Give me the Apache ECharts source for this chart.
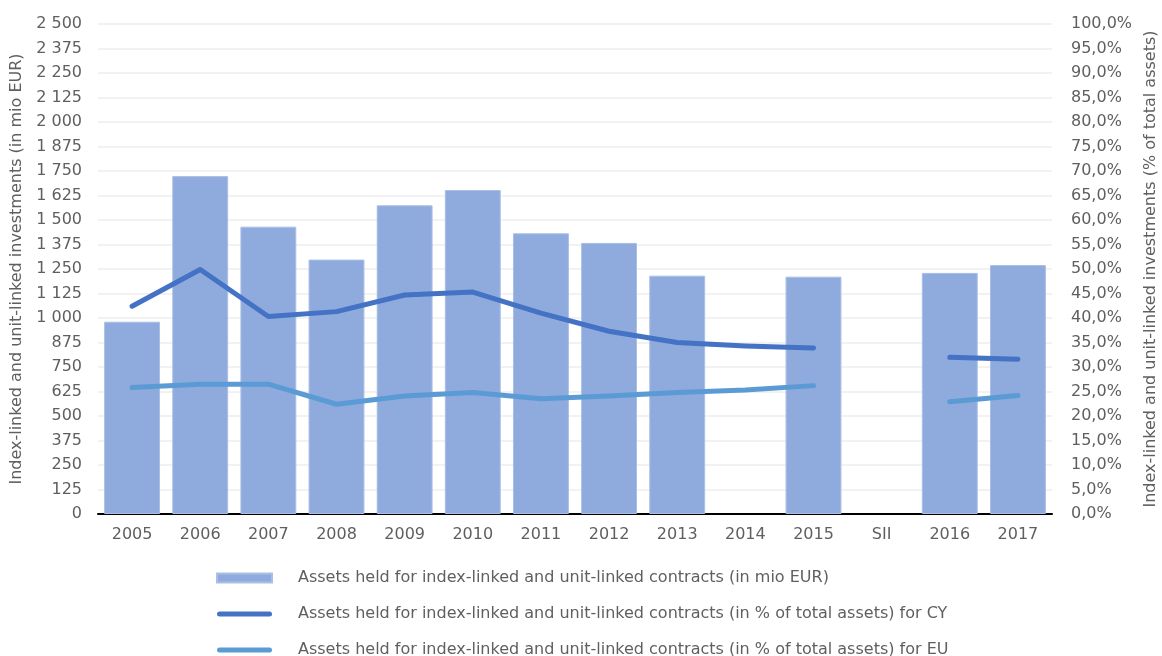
<!DOCTYPE html>
<html>
<head>
<meta charset="utf-8">
<script src="https://cdn.jsdelivr.net/npm/echarts@6/dist/echarts.min.js"></script>
<style>
  html, body { margin: 0; padding: 0; background: #ffffff; }
  #chart { width: 1162px; height: 656px; }
</style>
</head>
<body>
<div id="chart"></div>
<script>
// Categories along the x axis
const categories = ['2005', '2006', '2007', '2008', '2009', '2010', '2011', '2012', '2013', '2014', '2015', 'SII', '2016', '2017'];

// Assets held for index-linked and unit-linked contracts (in mio EUR)
const assetsMio = [981, 1724, 1466, 1298, 1575, 1653, 1432, 1383, 1216, null, 1211, null, 1230, 1270];

// Share of total assets (%) for CY
const shareCY = [42.4, 49.9, 40.3, 41.3, 44.7, 45.3, 41.0, 37.3, 35.0, 34.3, 33.9, null, 32.0, 31.6];

// Share of total assets (%) for EU
const shareEU = [25.8, 26.5, 26.5, 22.4, 24.1, 24.8, 23.5, 24.1, 24.8, 25.3, 26.2, null, 22.9, 24.2];

const seriesNames = [
  'Assets held for index-linked and unit-linked contracts (in mio EUR)',
  'Assets held for index-linked and unit-linked contracts (in % of total assets) for CY',
  'Assets held for index-linked and unit-linked contracts (in % of total assets) for EU'
];

const FONT = 'DejaVu Sans';
const TEXT = '#5f5f5f';
const SIZE = 16;

function thousands(v) {
  return String(v).replace(/\B(?=(\d{3})+(?!\d))/g, ' ');
}

const chart = echarts.init(document.getElementById('chart'), null, { renderer: 'canvas' });

// thick rounded stroke used as the legend marker of the two line series
const lineIcon = 'path://M2.5,0 L52.5,0 A2.5,2.5 0 0 1 52.5,5 L2.5,5 A2.5,2.5 0 0 1 2.5,0 Z';

chart.setOption({
  animation: false,
  textStyle: { fontFamily: FONT, color: TEXT },
  grid: { left: 98, right: 110, top: 24, height: 490, containLabel: false, outerBoundsMode: 'none' },
  legend: {
    orient: 'vertical',
    left: 216,
    top: 570,
    height: 100,
    padding: 0,
    itemWidth: 55,
    itemHeight: 9,
    itemGap: 20,
    textStyle: { fontFamily: FONT, fontSize: SIZE, lineHeight: 14, color: TEXT, padding: [0, 0, 0, 21] },
    data: [
      { name: seriesNames[0], icon: 'rect' },
      { name: seriesNames[1], icon: lineIcon },
      { name: seriesNames[2], icon: lineIcon }
    ]
  },
  xAxis: {
    type: 'category',
    data: categories,
    axisLine: { lineStyle: { color: '#000000', width: 2 } },
    axisTick: { show: false },
    axisLabel: { fontFamily: FONT, fontSize: SIZE, color: TEXT, margin: 13 }
  },
  yAxis: [
    {
      type: 'value',
      min: 0,
      max: 2500,
      interval: 125,
      name: 'Index-linked and unit-linked investments (in mio EUR)',
      nameLocation: 'middle',
      nameGap: 70,
      nameTextStyle: { fontFamily: FONT, fontSize: SIZE, color: TEXT },
      axisLine: { show: false },
      axisTick: { show: false },
      axisLabel: { fontFamily: FONT, fontSize: SIZE, color: TEXT, margin: 16, formatter: thousands },
      splitLine: { lineStyle: { color: '#eeeeee', width: 1.5 } }
    },
    {
      type: 'value',
      min: 0,
      max: 100,
      interval: 5,
      position: 'right',
      name: 'Index-linked and unit-linked investments (% of total assets)',
      nameLocation: 'middle',
      nameGap: 89,
      nameRotate: 90,
      nameTextStyle: { fontFamily: FONT, fontSize: SIZE, color: TEXT },
      axisLine: { show: false },
      axisTick: { show: false },
      axisLabel: {
        fontFamily: FONT, fontSize: SIZE, color: TEXT, margin: 19,
        formatter: v => v.toFixed(1).replace('.', ',') + '%'
      },
      splitLine: { show: false }
    }
  ],
  series: [
    {
      name: seriesNames[0],
      type: 'bar',
      data: assetsMio,
      barCategoryGap: '18%',
      itemStyle: { color: '#8faadc', borderColor: '#a9bfe6', borderWidth: 1 },
      z: 1
    },
    {
      name: seriesNames[1],
      type: 'line',
      yAxisIndex: 1,
      data: shareCY,
      symbol: 'none',
      connectNulls: false,
      lineStyle: { color: '#4472c4', width: 5, cap: 'round', join: 'round' },
      itemStyle: { color: '#4472c4' },
      z: 3
    },
    {
      name: seriesNames[2],
      type: 'line',
      yAxisIndex: 1,
      data: shareEU,
      symbol: 'none',
      connectNulls: false,
      lineStyle: { color: '#5b9bd5', width: 5, cap: 'round', join: 'round' },
      itemStyle: { color: '#5b9bd5' },
      z: 2
    }
  ]
});
</script>
</body>
</html>
